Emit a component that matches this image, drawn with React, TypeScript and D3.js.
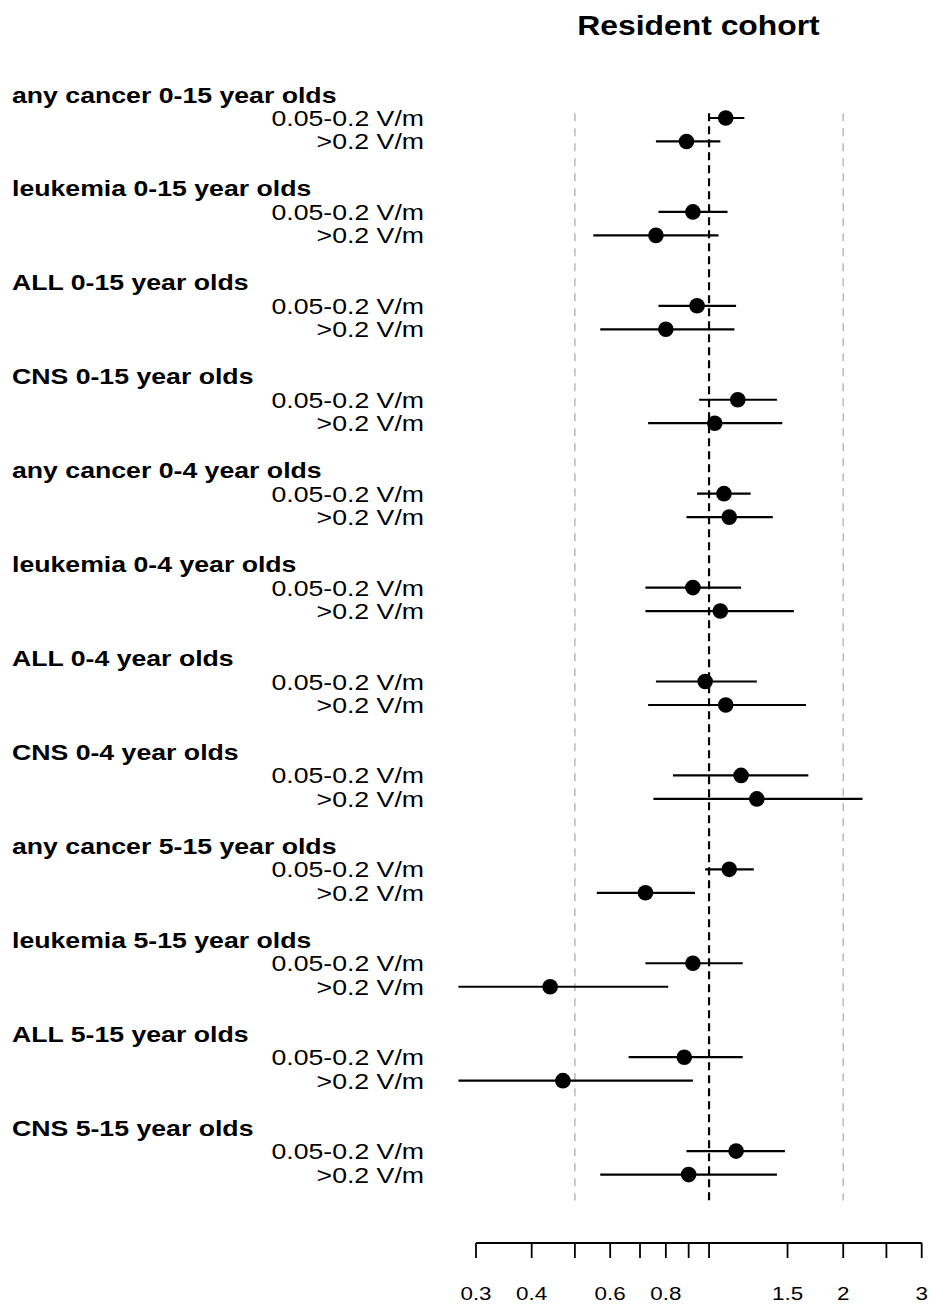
import React from "react";
import * as d3 from "d3";

// Outcome groups, top to bottom
const groups: string[] = [
  "any cancer 0-15 year olds",
  "leukemia 0-15 year olds",
  "ALL 0-15 year olds",
  "CNS 0-15 year olds",
  "any cancer 0-4 year olds",
  "leukemia 0-4 year olds",
  "ALL 0-4 year olds",
  "CNS 0-4 year olds",
  "any cancer 5-15 year olds",
  "leukemia 5-15 year olds",
  "ALL 5-15 year olds",
  "CNS 5-15 year olds",
];

// Exposure categories within each group
const exposures: string[] = ["0.05-0.2 V/m", ">0.2 V/m"];

// Hazard ratios and 95% CI, exposure 0.05-0.2 V/m
const midEst: number[] = [1.09, 0.92, 0.94, 1.16, 1.08, 0.92, 0.98, 1.18, 1.11, 0.92, 0.88, 1.15];
const midLo: number[] = [1.0, 0.77, 0.77, 0.95, 0.94, 0.72, 0.76, 0.83, 0.98, 0.72, 0.66, 0.89];
const midHi: number[] = [1.2, 1.1, 1.15, 1.42, 1.24, 1.18, 1.28, 1.67, 1.26, 1.19, 1.19, 1.48];

// Hazard ratios and 95% CI, exposure >0.2 V/m
const highEst: number[] = [0.89, 0.76, 0.8, 1.03, 1.11, 1.06, 1.09, 1.28, 0.72, 0.44, 0.47, 0.9];
const highLo: number[] = [0.76, 0.55, 0.57, 0.73, 0.89, 0.72, 0.73, 0.75, 0.56, 0.274, 0.274, 0.57];
const highHi: number[] = [1.06, 1.05, 1.14, 1.46, 1.39, 1.55, 1.65, 2.21, 0.93, 0.81, 0.92, 1.42];

// Axis ticks and the subset that carry labels
const tickValues: number[] = [0.3, 0.4, 0.5, 0.6, 0.7, 0.8, 0.9, 1, 1.5, 2, 2.5, 3];
const tickLabels: number[] = [0.3, 0.4, 0.6, 0.8, 1.5, 2, 3];

// Reference lines: null effect (black) and guides (grey)
const nullValue = 1;
const guideValues: number[] = [0.5, 2];

const title = "Resident cohort";

const W = 929;
const H = 1307;
const FONT = "'Liberation Sans', Arial, Helvetica, sans-serif";
const SX = 1.18;

export default function App() {
  const x = d3.scaleLog().domain([0.3, 3]).range([476, 921.7]);
  // row index -> vertical position; each group takes 4 rows (heading, two estimates, gap)
  const nRows = groups.length * 4;
  const y = d3.scaleLinear().domain([0, nRows]).range([94.5, 94.5 + nRows * 23.48]);

  const rows = groups.flatMap((g, i) => [
    { row: i * 4 + 1, label: exposures[0], est: midEst[i], lo: midLo[i], hi: midHi[i] },
    { row: i * 4 + 2, label: exposures[1], est: highEst[i], lo: highLo[i], hi: highHi[i] },
  ]);

  const lineTop = y(0.8);
  const lineBottom = y(nRows - 0.9);
  const axisY = 1243;

  return (
    <svg
      width={W}
      height={H}
      style={{ position: "absolute", left: 0, top: 0, display: "block", background: "#fff" }}
      fontFamily={FONT}
    >
      <rect x={0} y={0} width={W} height={H} fill="#fff" />

      <text
        transform={`translate(698.5,35) scale(${SX},1)`}
        textAnchor="middle"
        fontWeight="bold"
        fontSize={27}
        fill="#000"
      >
        {title}
      </text>

      {guideValues.map((v) => (
        <line
          key={v}
          x1={x(v)}
          x2={x(v)}
          y1={lineTop}
          y2={lineBottom}
          stroke="#bdbdbd"
          strokeWidth={1.6}
          strokeDasharray="8,7"
        />
      ))}
      <line
        x1={x(nullValue)}
        x2={x(nullValue)}
        y1={lineTop}
        y2={lineBottom}
        stroke="#000"
        strokeWidth={2.2}
        strokeDasharray="8,5"
      />

      {groups.map((g, i) => (
        <text
          key={g}
          transform={`translate(12,${y(i * 4) + 8}) scale(${SX},1)`}
          fontWeight="bold"
          fontSize={22.6}
          fill="#000"
        >
          {g}
        </text>
      ))}

      {rows.map((r) => (
        <g key={r.row}>
          <text
            transform={`translate(424,${y(r.row) + 8}) scale(${SX},1)`}
            textAnchor="end"
            fontSize={22.6}
            fill="#000"
          >
            {r.label}
          </text>
          <line x1={x(r.lo)} x2={x(r.hi)} y1={y(r.row)} y2={y(r.row)} stroke="#000" strokeWidth={2.2} />
          <circle cx={x(r.est)} cy={y(r.row)} r={7.8} fill="#000" />
        </g>
      ))}

      <g>
        <line x1={x(0.3)} x2={x(3)} y1={axisY} y2={axisY} stroke="#000" strokeWidth={1.8} />
        {tickValues.map((t) => (
          <line key={t} x1={x(t)} x2={x(t)} y1={axisY} y2={axisY + 15} stroke="#000" strokeWidth={1.8} />
        ))}
        {tickLabels.map((t) => (
          <text
            key={t}
            transform={`translate(${x(t)},1300) scale(${SX},1)`}
            textAnchor="middle"
            fontSize={19}
            fill="#000"
          >
            {String(t)}
          </text>
        ))}
      </g>
    </svg>
  );
}
